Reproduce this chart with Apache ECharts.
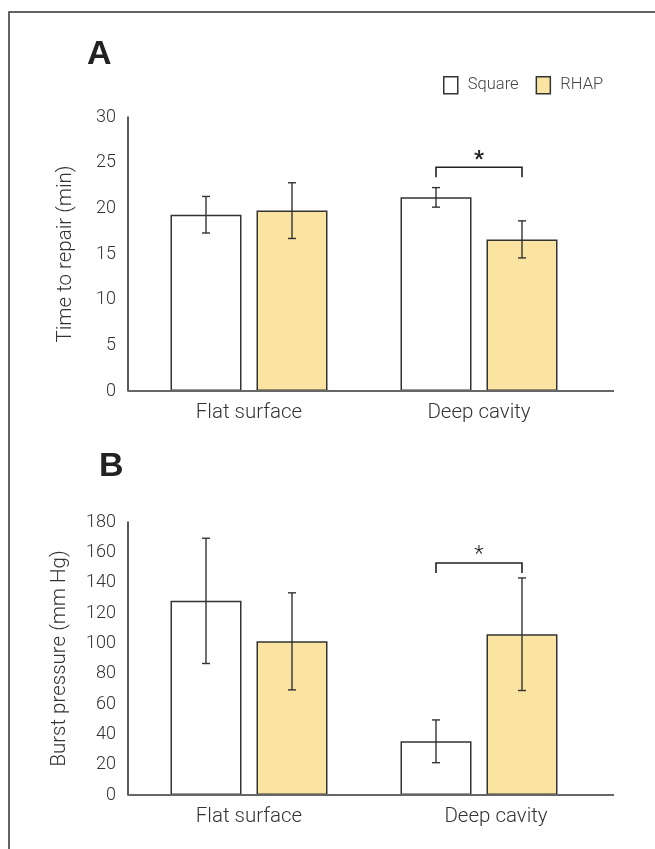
<!DOCTYPE html>
<html>
<head>
<meta charset="utf-8">
<script src="https://cdn.jsdelivr.net/npm/echarts@6/dist/echarts.min.js"></script>
<style>
  html, body { margin: 0; padding: 0; background: #fff; }
  #chart { width: 655px; height: 849px; }
</style>
</head>
<body>
<div id="chart"></div>
<script>
const categories = ['Flat surface', 'Deep cavity'];
const seriesNames = ['Square', 'RHAP'];

// panel A: time to repair (min), mean and error
const timeSquare = [19.3, 21.2];
const timeSquareErr = [2.0, 1.07];
const timeRhap = [19.75, 16.6];
const timeRhapErr = [3.05, 2.03];
const timeTicks = { min: 0, max: 30, interval: 5 };
const timeSig = [[1, 24.5]];

// panel B: burst pressure (mm Hg)
const burstSquare = [128, 35.4];
const burstSquareErr = [41.3, 14.1];
const burstRhap = [101.3, 106];
const burstRhapErr = [32, 37.1];
const burstTicks = { min: 0, max: 180, interval: 20 };
const burstSig = [[1, 153]];

const FONT = 'Roboto';
const TXT = '#333';
const EDGE = '#333';
const YELLOW = '#fbe4a2';
const BAR_W = 71;
const BAR_GAP = 15;
const SHIFT = (BAR_W + BAR_GAP) / 2;

const chart = echarts.init(document.getElementById('chart'));

function errItems(means, errs) {
  return means.map((m, i) => [i, m, errs[i]]);
}

function errorSeries(name, means, errs, side, idx) {
  return {
    name: name,
    type: 'custom',
    xAxisIndex: idx,
    yAxisIndex: idx,
    z: 5,
    data: errItems(means, errs),
    renderItem: function (params, api) {
      const i = api.value(0), m = api.value(1), e = api.value(2);
      const hi = api.coord([i, m + e]);
      const lo = api.coord([i, m - e]);
      const x = hi[0] + side * SHIFT;
      const st = { stroke: EDGE, lineWidth: 1.4 };
      return {
        type: 'group',
        children: [
          { type: 'line', shape: { x1: x, y1: hi[1], x2: x, y2: lo[1] }, style: st },
          { type: 'line', shape: { x1: x - 4, y1: hi[1], x2: x + 4, y2: hi[1] }, style: st },
          { type: 'line', shape: { x1: x - 4, y1: lo[1], x2: x + 4, y2: lo[1] }, style: st }
        ]
      };
    }
  };
}

function sigSeries(data, idx, bold) {
  return {
    name: 'sig' + idx,
    type: 'custom',
    xAxisIndex: idx,
    yAxisIndex: idx,
    data: data,
    renderItem: function (params, api) {
      const p = api.coord([api.value(0), api.value(1)]);
      const x1 = p[0] - SHIFT, x2 = p[0] + SHIFT;
      return {
        type: 'group',
        children: [
          {
            type: 'polyline',
            shape: { points: [[x1, p[1] + 10], [x1, p[1]], [x2, p[1]], [x2, p[1] + 10]] },
            style: { stroke: '#222', lineWidth: 1.6, fill: null }
          },
          {
            type: 'text',
            style: {
              x: p[0], y: p[1] - 7, text: '*', align: 'center', verticalAlign: 'middle',
              font: (bold ? 'bold ' : '300 ') + '22px ' + FONT, fill: '#222'
            }
          }
        ]
      };
    }
  };
}

function barSeries(name, values, idx, color) {
  return {
    name: name,
    type: 'bar',
    xAxisIndex: idx,
    yAxisIndex: idx,
    data: values,
    barWidth: BAR_W,
    barGap: (BAR_GAP / BAR_W * 100) + '%',
    itemStyle: { color: color, borderColor: EDGE, borderWidth: 1.5 }
  };
}

const grids = [
  { left: 134, width: 460, top: 117, height: 274 },
  { left: 134, width: 460, top: 522, height: 273 }
];

function yAxis(idx, ticks, name, gap, pad) {
  return {
    type: 'value',
    gridIndex: idx,
    min: ticks.min, max: ticks.max, interval: ticks.interval,
    offset: 6,
    name: name,
    nameLocation: 'middle',
    nameGap: gap,
    nameTextStyle: { fontFamily: FONT, fontWeight: 300, fontSize: 20.5, color: TXT },
    axisLine: { show: true, lineStyle: { color: '#222', width: 1.5 } },
    axisTick: { show: false },
    splitLine: { show: false },
    axisLabel: { fontFamily: FONT, fontWeight: 300, fontSize: 18, color: TXT, margin: 12, padding: [0, 0, pad, 0] }
  };
}

function xAxis(idx, labels) {
  return {
    type: 'category',
    gridIndex: idx,
    data: labels,
    axisLine: { show: false },
    axisTick: { show: false },
    axisLabel: { fontFamily: FONT, fontWeight: 300, fontSize: 20.5, color: TXT, margin: 11 }
  };
}

chart.setOption({
  animation: false,
  backgroundColor: '#fff',
  legend: {
    data: seriesNames,
    left: 438, top: 71,
    icon: 'rect',
    itemWidth: 14, itemHeight: 17,
    itemGap: 17,
    itemStyle: { borderColor: EDGE, borderWidth: 1.5 },
    textStyle: { fontFamily: FONT, fontWeight: 300, fontSize: 16.5, color: '#444', padding: [0, 0, 0, 5] }
  },
  grid: grids,
  xAxis: [
    xAxis(0, categories),
    xAxis(1, [categories[0], { value: categories[1], textStyle: { padding: [0, 0, 0, 34] } }])
  ],
  yAxis: [
    yAxis(0, timeTicks, 'Time to repair (min)', 52, 12),
    yAxis(1, burstTicks, 'Burst pressure (mm Hg)', 58, 4)
  ],
  series: [
    barSeries('Square', timeSquare, 0, '#fff'),
    barSeries('RHAP', timeRhap, 0, YELLOW),
    errorSeries('Square err A', timeSquare, timeSquareErr, -1, 0),
    errorSeries('RHAP err A', timeRhap, timeRhapErr, 1, 0),
    sigSeries(timeSig, 0, true),
    barSeries('Square', burstSquare, 1, '#fff'),
    barSeries('RHAP', burstRhap, 1, YELLOW),
    errorSeries('Square err B', burstSquare, burstSquareErr, -1, 1),
    errorSeries('RHAP err B', burstRhap, burstRhapErr, 1, 1),
    sigSeries(burstSig, 1, false)
  ]
});

// frame, panel letters and the x baselines (axis runs past the plot area)
const baseA = chart.convertToPixel({ yAxisIndex: 0 }, 0);
const baseB = chart.convertToPixel({ yAxisIndex: 1 }, 0);
const axisX = grids[0].left - 6;
const axisEnd = 614;

chart.setOption({
  graphic: [
    { type: 'polyline', shape: { points: [[9, 849], [9, 12], [655, 12]] }, style: { stroke: '#333', lineWidth: 1.5, fill: null } },
    { type: 'text', left: 87, top: 38, style: { text: 'A', font: 'bold 34px "Liberation Sans"', fill: '#222' } },
    { type: 'text', left: 99, top: 450, style: { text: 'B', font: 'bold 34px "Liberation Sans"', fill: '#222' } },
    { type: 'line', shape: { x1: axisX, y1: baseA, x2: axisEnd, y2: baseA }, style: { stroke: '#666', lineWidth: 2 }, z: 10 },
    { type: 'line', shape: { x1: axisX, y1: baseB, x2: axisEnd, y2: baseB }, style: { stroke: '#666', lineWidth: 2 }, z: 10 }
  ]
});
</script>
</body>
</html>
